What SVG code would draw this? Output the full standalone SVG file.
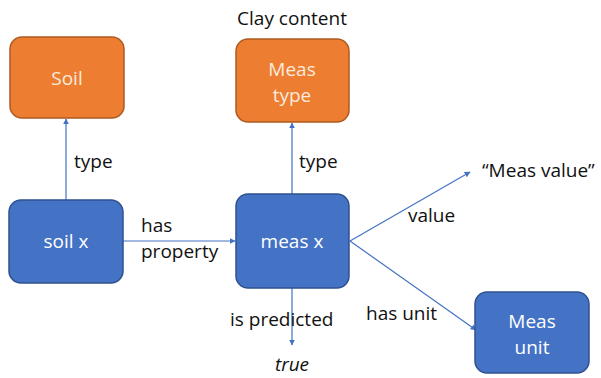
<svg xmlns="http://www.w3.org/2000/svg" width="601" height="378" viewBox="0 0 601 378">
  <defs>
    <marker id="arrow" viewBox="0 0 10 10" refX="9" refY="5" markerWidth="6" markerHeight="6" orient="auto" markerUnits="userSpaceOnUse">
      <path d="M0,0 L10,5 L0,10 z" fill="#4472C4"/>
    </marker>
    <style>
      .orange { fill: #ED7D31; stroke: #AE5A21; stroke-width: 1.5; }
      .blue { fill: #4472C4; stroke: #2F528F; stroke-width: 1.5; }
      .inner { font-family: "Open Sans", "Liberation Sans", sans-serif; font-size: 19px; fill: #ffffff; text-anchor: middle; }
      .innerO { fill: #FCEBDD; }
      .label { font-family: "Open Sans", "Liberation Sans", sans-serif; font-size: 19px; fill: #111111; }
      .edge { stroke: #4472C4; stroke-width: 1.2; fill: none; marker-end: url(#arrow); }
    </style>
  </defs>
  <rect width="601" height="378" fill="#ffffff"/>

  <!-- connectors -->
  <g id="connectors">
    <line class="edge" x1="66" y1="200" x2="66" y2="119"/>
    <line class="edge" x1="292" y1="194" x2="292" y2="123"/>
    <line class="edge" x1="123" y1="241" x2="235" y2="241"/>
    <line class="edge" x1="292" y1="288" x2="292" y2="345"/>
    <line class="edge" x1="350" y1="241" x2="470" y2="172"/>
    <line class="edge" x1="350" y1="241" x2="476" y2="330"/>
    <text class="label" x="74" y="168">type</text>
    <text class="label" x="299" y="168">type</text>
    <text class="label" x="141" y="232">has</text>
    <text class="label" x="141" y="258">property</text>
    <text class="label" x="408" y="222">value</text>
    <text class="label" x="366" y="320">has unit</text>
    <text class="label" x="230" y="326">is predicted</text>
  </g>

  <g id="soil">
    <rect class="orange" x="10" y="37" width="114" height="81" rx="12"/>
    <text class="inner innerO" x="67" y="85">Soil</text>
  </g>

  <g id="meas-type">
    <text class="label" x="292" y="25" text-anchor="middle">Clay content</text>
    <rect class="orange" x="236" y="39" width="113" height="83" rx="12"/>
    <text class="inner innerO" x="292" y="76">Meas</text>
    <text class="inner innerO" x="292" y="102">type</text>
  </g>

  <g id="soil-x">
    <rect class="blue" x="9" y="200" width="114" height="83" rx="12"/>
    <text class="inner" x="66" y="248">soil x</text>
  </g>

  <g id="meas-x">
    <rect class="blue" x="236" y="194" width="113" height="94" rx="12"/>
    <text class="inner" x="292" y="248">meas x</text>
  </g>

  <g id="meas-value">
    <text class="label" x="482" y="177">“Meas value”</text>
  </g>

  <g id="meas-unit">
    <rect class="blue" x="475" y="292" width="114" height="81" rx="12"/>
    <text class="inner" x="532" y="328">Meas</text>
    <text class="inner" x="532" y="354">unit</text>
  </g>

  <g id="true">
    <text class="label" x="292" y="371" text-anchor="middle" font-style="italic">true</text>
  </g>
</svg>
